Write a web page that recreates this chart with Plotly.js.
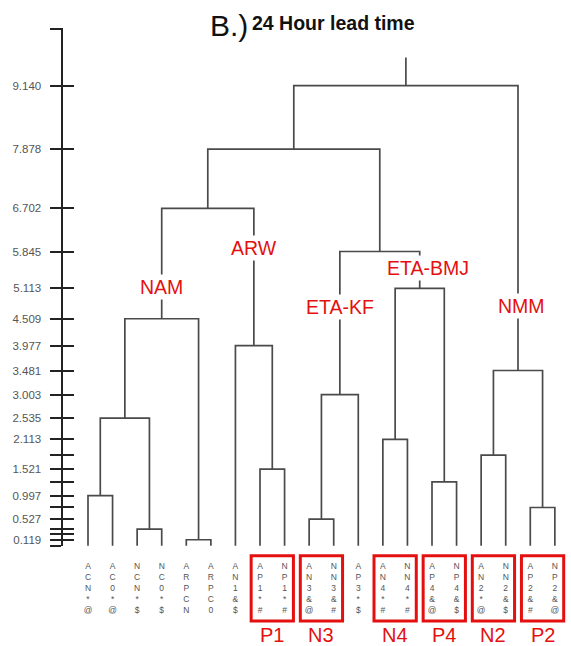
<!DOCTYPE html>
<html>
<head>
<meta charset="utf-8">
<script src="https://cdn.plot.ly/plotly-3.0.1.min.js"></script>
<style>html,body{margin:0;padding:0;background:#fff;}#chart{width:571px;height:646px;}</style>
</head>
<body>
<div id="chart"></div>
<script>
// ---- data ----
const leafLabels = ['ACN*@','AC0*@','NCN*$','NC0*$','ARPCN','ARPC0','AN1&$','AP1*#','NP1*#','AN3&@',
                    'NN3&#','AP3*$','AN4*#','NN4*#','AP4&@','NP4&$','AN2*@','NN2&$','AP2&#','NP2&@'];
// linkage: indices < 20 are leaves, >= 20 refer to earlier merges (20 + merge row)
const mergeLeft   = [0, 2, 20, 4, 22, 7, 6, 24, 9, 28, 12, 14, 30, 29, 27, 16, 18, 35, 34];
const mergeRight  = [1, 3, 21, 5, 23, 8, 25, 26, 10, 11, 13, 15, 31, 32, 33, 17, 19, 36, 37];
const mergeHeight = [0.997, 0.33, 2.535, 0.119, 4.509, 1.521, 3.977, 6.702, 0.527, 3.003,
                     2.113, 1.27, 5.113, 5.845, 7.878, 1.80, 0.76, 3.481, 9.140];
const rootTop = 9.7;

const tickValues = [9.140, 7.878, 6.702, 5.845, 5.113, 4.509, 3.977, 3.481, 3.003, 2.535, 2.113, 1.521, 0.997, 0.527, 0.119];
const tickLabels = ['9.140','7.878','6.702','5.845','5.113','4.509','3.977','3.481','3.003','2.535','2.113','1.521','0.997','0.527','0.119'];
const minorTicks = [1.80, 1.27, 0.76, 0.33, 0.23, 0, 10.27];

const clusterNames = ['NAM', 'ARW', 'ETA-KF', 'ETA-BMJ', 'NMM'];
const clusterNodes = [24, 26, 29, 32, 37];

const groupNames  = ['P1', 'N3', 'N4', 'P4', 'N2', 'P2'];
const groupLeaves = [[7, 8], [9, 10], [12, 13], [14, 15], [16, 17], [18, 19]];

const titleTag = 'B.)';
const titleText = '24 Hour lead time';

// ---- build dendrogram segments ----
const nodeX = leafLabels.map((_, i) => i);
const nodeH = leafLabels.map(() => 0);
const xs = [], ys = [];
mergeLeft.forEach((l, k) => {
  const r = mergeRight[k], h = mergeHeight[k];
  xs.push(nodeX[l], nodeX[l], nodeX[r], nodeX[r], null);
  ys.push(nodeH[l], h, h, nodeH[r], null);
  nodeX.push((nodeX[l] + nodeX[r]) / 2);
  nodeH.push(h);
});
const rootNode = nodeX.length - 1;
xs.push(nodeX[rootNode], nodeX[rootNode]);
ys.push(nodeH[rootNode], rootTop);

const lineColor = '#4a4a4a';
const red = 'rgb(228,16,16)';
const sans = 'Liberation Sans, Arial, sans-serif';

const allTicks = tickValues.concat(minorTicks);
const allText = tickLabels.concat(minorTicks.map(() => ''));

const traces = [
  {x: xs, y: ys, type: 'scatter', mode: 'lines', line: {color: lineColor, width: 1.7},
   hoverinfo: 'skip', showlegend: false, cliponaxis: false},
  {x: [null], y: [null], yaxis: 'y2', type: 'scatter', mode: 'lines', showlegend: false, hoverinfo: 'skip'}
];

// cluster label offsets (layout)
const clusterDX = [0, 0, 0, 0.35, 0.15];
const clusterY  = [5.15, 5.91, 4.74, 5.51, 4.76];

const annotations = clusterNames.map((name, k) => ({
  x: nodeX[clusterNodes[k]] + clusterDX[k], y: clusterY[k], xref: 'x', yref: 'y',
  text: name, showarrow: false, bgcolor: '#ffffff', borderpad: 1,
  font: {family: sans, size: 19.5, color: red}
}));
groupNames.forEach((g, k) => {
  const [a, b] = groupLeaves[k];
  annotations.push({x: (a + b) / 2, y: -0.172, xref: 'x', yref: 'paper', yanchor: 'middle', text: g, showarrow: false,
    font: {family: sans, size: 20, color: red}});
});
annotations.push({x: 0.287, y: 1.005, xref: 'paper', yref: 'paper', xanchor: 'left', yanchor: 'middle',
  text: titleTag, showarrow: false, font: {family: sans, size: 30, color: '#111'}});
annotations.push({x: 0.370, y: 1.01, xref: 'paper', yref: 'paper', xanchor: 'left', yanchor: 'middle',
  text: '<b>' + titleText + '</b>', showarrow: false, font: {family: sans, size: 19.5, color: '#111'}});

const shapes = groupLeaves.map(([a, b]) => ({
  type: 'rect', xref: 'x', yref: 'paper', x0: a - 0.36, x1: b + 0.36, y0: -0.019, y1: -0.145,
  line: {color: red, width: 3}, fillcolor: 'rgba(0,0,0,0)'
}));

const yRange = [-0.005, 10.285];
const layout = {
  width: 571, height: 646,
  margin: {l: 63, r: 3, t: 28, b: 100},
  paper_bgcolor: '#fff', plot_bgcolor: '#fff',
  showlegend: false,
  xaxis: {range: [-1.0175, 19.535], tickvals: leafLabels.map((_, i) => i),
    ticktext: leafLabels.map(s => s.split('').join('<br>')),
    tickangle: 0, tickfont: {family: sans, size: 8.5, color: '#555'},
    ticks: 'outside', ticklen: 12, tickcolor: 'rgba(0,0,0,0)',
    showline: false, showgrid: false, zeroline: false, fixedrange: true},
  yaxis: {range: yRange, tickvals: allTicks, ticktext: allText,
    ticks: 'outside', ticklen: 11, tickwidth: 2, tickcolor: '#222',
    showline: true, linewidth: 2.5, linecolor: '#222',
    showgrid: false, zeroline: false, ticklabelstandoff: 6,
    tickfont: {family: sans, size: 11.5, color: '#555'}},
  yaxis2: {range: yRange, overlaying: 'y', side: 'left', tickvals: allTicks,
    ticks: 'inside', ticklen: 11, tickwidth: 2, tickcolor: '#222',
    showticklabels: false, showline: false, showgrid: false, zeroline: false},
  annotations: annotations,
  shapes: shapes
};

Plotly.newPlot('chart', traces, layout, {displayModeBar: false, staticPlot: true});
</script>
</body>
</html>
